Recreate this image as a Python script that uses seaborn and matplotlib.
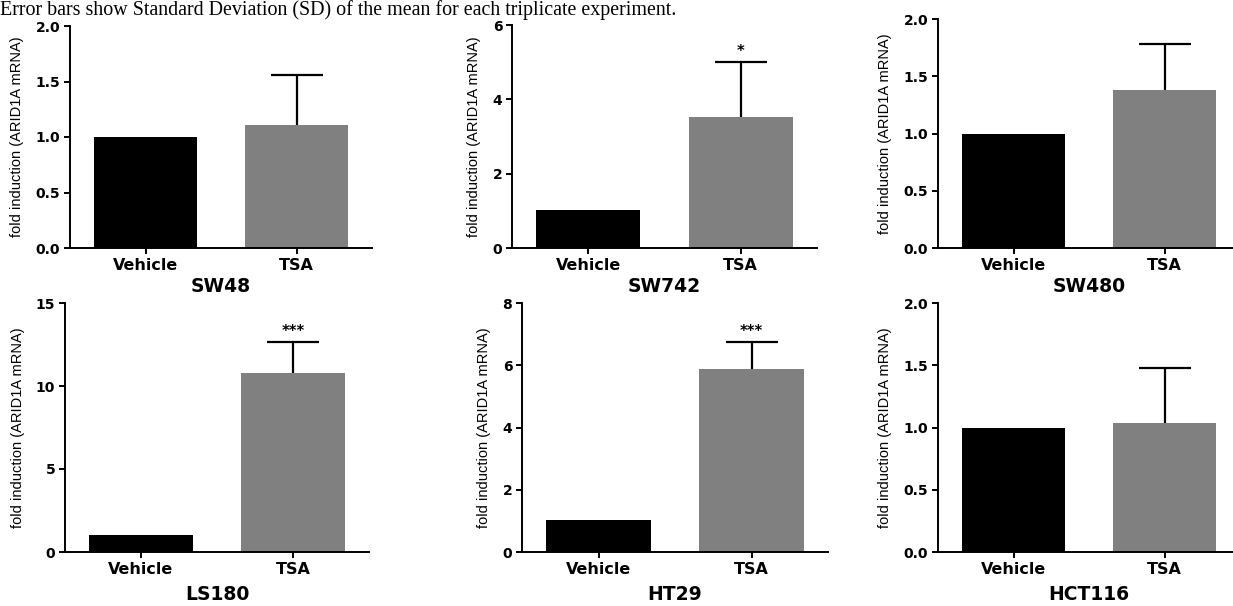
import pandas as pd
import seaborn as sns
import matplotlib.pyplot as plt
from matplotlib.ticker import MultipleLocator, FormatStrFormatter

# --- Data ---
cell_lines = ["SW48", "SW742", "SW480", "LS180", "HT29", "HCT116"]
treatments = ["Vehicle", "TSA"]
vehicle_fold = [1.0, 1.03, 1.0, 1.0, 1.03, 1.0]
tsa_fold = [1.11, 3.53, 1.38, 10.77, 5.87, 1.04]
tsa_sd = [0.45, 1.47, 0.40, 1.88, 0.88, 0.44]
significance = ["", "*", "", "***", "***", ""]
y_max = [2.0, 6, 2.0, 15, 8, 2.0]
y_step = [0.5, 2, 0.5, 5, 2, 0.5]

caption = "Error bars show Standard Deviation (SD) of the mean for each triplicate experiment."

# axes boxes in pixels: left, top, right, bottom
W, H = 1233, 606
boxes = [(70, 26, 372, 248), (512, 25, 817, 248), (938, 19, 1240, 248),
         (65, 303, 369, 552), (522, 303, 828, 552), (938, 303, 1240, 552)]

sns.set_style("ticks")
plt.rcParams["font.family"] = ["DejaVu Sans"]
for key in ["text.color", "axes.labelcolor", "xtick.color", "ytick.color", "axes.edgecolor"]:
    plt.rcParams[key] = "black"

fig = plt.figure(figsize=(W / 100, H / 100), dpi=100)
fig.text(0.0, 1 - 15 / H, caption, family="Liberation Serif", fontsize=14.4,
         ha="left", va="baseline")

for i, name in enumerate(cell_lines):
    l, t, r, b = boxes[i]
    ax = fig.add_axes([l / W, 1 - b / H, (r - l) / W, (b - t) / H])
    df = pd.DataFrame({"treatment": treatments,
                       "fold": [vehicle_fold[i], tsa_fold[i]]})
    sns.barplot(data=df, x="treatment", y="fold", hue="treatment",
                palette=["#000000", "#808080"], saturation=1, width=0.68,
                errorbar=None, legend=False, ax=ax, edgecolor="none")
    # one sided SD bar on TSA, hide the lower cap
    eb = ax.errorbar(1, tsa_fold[i], yerr=[[0], [tsa_sd[i]]], fmt="none",
                     ecolor="black", elinewidth=1.6, capsize=18.5, capthick=1.6, zorder=5)
    eb[1][0].set_visible(False)
    if significance[i]:
        ax.annotate(significance[i], xy=(1, tsa_fold[i] + tsa_sd[i]),
                    xytext=(0, 2), textcoords="offset points",
                    ha="center", va="bottom", fontsize=10.5, fontweight="bold")

    ax.set_xlim(-0.5, 1.5)
    ax.set_ylim(0, y_max[i])
    ax.yaxis.set_major_locator(MultipleLocator(y_step[i]))
    ax.yaxis.set_major_formatter(FormatStrFormatter("%.1f" if y_step[i] < 1 else "%d"))
    sns.despine(ax=ax)
    for s in ["left", "bottom"]:
        ax.spines[s].set_linewidth(1.4)
    ax.tick_params(axis="both", width=1.4, length=4, pad=3)
    ax.tick_params(axis="y", labelsize=10)
    ax.tick_params(axis="x", labelsize=11.5)
    for lab in ax.get_xticklabels() + ax.get_yticklabels():
        lab.set_fontweight("bold")

    ax.set_ylabel("fold induction (ARID1A mRNA)", family="Liberation Sans",
                  fontsize=10.5, labelpad=8)
    ax.set_xlabel(name, fontsize=13.5, fontweight="bold",
                  labelpad=3 if i < 3 else 6)

fig.savefig("out.png", dpi=100)
